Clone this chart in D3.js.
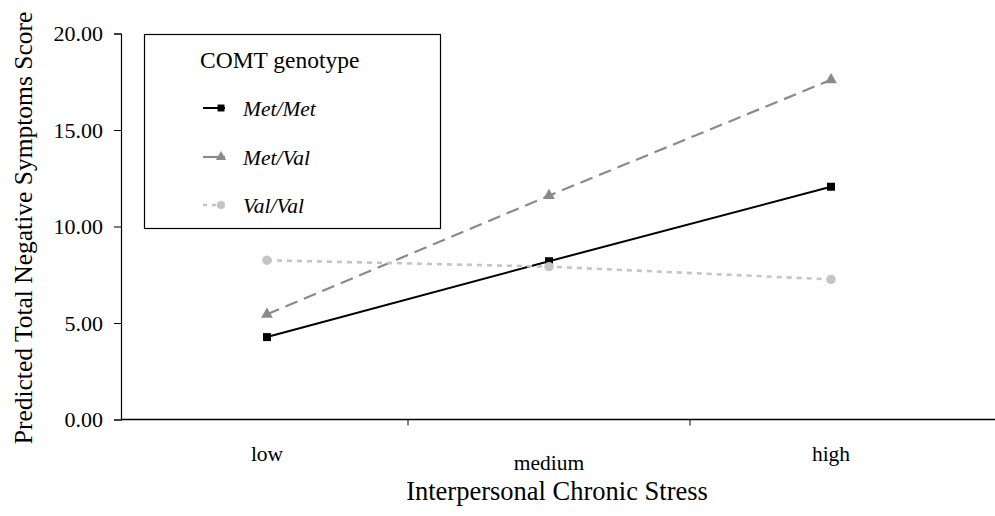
<!DOCTYPE html>
<html>
<head>
<meta charset="utf-8">
<script src="https://cdn.jsdelivr.net/npm/d3@7"></script>
<style>
  body { margin: 0; background: #fff; }
  svg { display: block; font-family: "Liberation Serif", "Times New Roman", serif; }
</style>
</head>
<body>
<div id="chart"></div>
<script>
// data
const categories = ['low', 'medium', 'high']
const metMet = [4.27, 8.2, 12.06]
const metVal = [5.45, 11.6, 17.6]
const valVal = [8.25, 7.92, 7.26]
const yTicks = [0, 5, 10, 15, 20]

const seriesNames = ['Met/Met', 'Met/Val', 'Val/Val']

const width = 995
const height = 516

const svg = d3.select('#chart')
    .append('svg')
    .attr('width', width)
    .attr('height', height)

// scales
const xScale = d3.scaleBand()
    .domain(categories)
    .range([126, 972])

const yScale = d3.scaleLinear()
    .domain([0, 20])
    .range([419.5, 33.5])

const series = [
    { name: seriesNames[0], values: metMet, color: '#000000', dash: null, width: 2, shape: d3.symbolSquare, size: 64 },
    { name: seriesNames[1], values: metVal, color: '#8a8a8a', dash: '13,7', width: 2.2, shape: d3.symbolTriangle, size: 60 },
    { name: seriesNames[2], values: valVal, color: '#c4c4c4', dash: '5,5', width: 2.6, shape: d3.symbolCircle, size: 70 }
]

// y axis
const yAxis = d3.axisLeft(yScale)
    .tickValues(yTicks)
    .tickSize(7)
    .tickPadding(11)
    .tickFormat(d3.format('.2f'))

svg.append('g')
    .attr('transform', 'translate(121,0)')
    .call(yAxis)
    .call(g => g.select('.domain').attr('stroke', '#000').attr('stroke-width', 1.2))
    .call(g => g.selectAll('.tick line').attr('stroke', '#000'))
    .call(g => g.selectAll('.tick text')
        .attr('font-size', 22)
        .attr('font-family', '"Liberation Serif", serif')
        .attr('fill', '#000'))

// x axis line with boundary ticks
svg.append('line')
    .attr('x1', 121).attr('x2', width)
    .attr('y1', yScale(0)).attr('y2', yScale(0))
    .attr('stroke', '#000').attr('stroke-width', 1.4)

svg.selectAll('.xtick')
    .data(categories.slice(1))
    .enter()
    .append('line')
    .attr('class', 'xtick')
    .attr('x1', d => xScale(d)).attr('x2', d => xScale(d))
    .attr('y1', yScale(0)).attr('y2', yScale(0) + 6)
    .attr('stroke', '#000')

svg.selectAll('.xlabel')
    .data(categories)
    .enter()
    .append('text')
    .attr('class', 'xlabel')
    .attr('x', d => xScale(d) + xScale.bandwidth() / 2)
    .attr('y', d => d === 'medium' ? 470 : 461)
    .attr('text-anchor', 'middle')
    .attr('font-size', 21.5)
    .text(d => d)

// axis titles
svg.append('text')
    .attr('x', 557)
    .attr('y', 500)
    .attr('text-anchor', 'middle')
    .attr('font-size', 26.5)
    .text('Interpersonal Chronic Stress')

svg.append('text')
    .attr('transform', 'translate(32,228) rotate(-90)')
    .attr('text-anchor', 'middle')
    .attr('font-size', 25.5)
    .text('Predicted Total Negative Symptoms Score')

// lines and markers
const line = d3.line()
    .x((d, i) => xScale(categories[i]) + xScale.bandwidth() / 2)
    .y(d => yScale(d))

series.forEach(s => {
    svg.append('path')
        .datum(s.values)
        .attr('d', line)
        .attr('fill', 'none')
        .attr('stroke', s.color)
        .attr('stroke-width', s.width)
        .attr('stroke-dasharray', s.dash)

    svg.selectAll(null)
        .data(s.values)
        .enter()
        .append('path')
        .attr('d', d3.symbol().type(s.shape).size(s.size))
        .attr('transform', (d, i) => 'translate(' + (xScale(categories[i]) + xScale.bandwidth() / 2) + ',' + yScale(d) + ')')
        .attr('fill', s.color)
})

// legend
const legend = svg.append('g')

legend.append('rect')
    .attr('x', 144.5).attr('y', 34.5)
    .attr('width', 296).attr('height', 194)
    .attr('fill', '#fff')
    .attr('stroke', '#000')
    .attr('stroke-width', 1.2)

legend.append('text')
    .attr('x', 200)
    .attr('y', 68)
    .attr('font-size', 23.5)
    .text('COMT genotype')

const rowY = [108, 157, 205]

series.forEach((s, i) => {
    legend.append('line')
        .attr('x1', 203).attr('x2', 225)
        .attr('y1', rowY[i]).attr('y2', rowY[i])
        .attr('stroke', s.color)
        .attr('stroke-width', s.width)
        .attr('stroke-dasharray', i === 2 ? '4,5' : null)
    legend.append('path')
        .attr('d', d3.symbol().type(s.shape).size(s.size * 0.75))
        .attr('transform', 'translate(221,' + rowY[i] + ')')
        .attr('fill', s.color)
    legend.append('text')
        .attr('x', 243)
        .attr('y', rowY[i] + 8)
        .attr('font-size', 21.5)
        .attr('font-style', 'italic')
        .text(s.name)
})
</script>
</body>
</html>
